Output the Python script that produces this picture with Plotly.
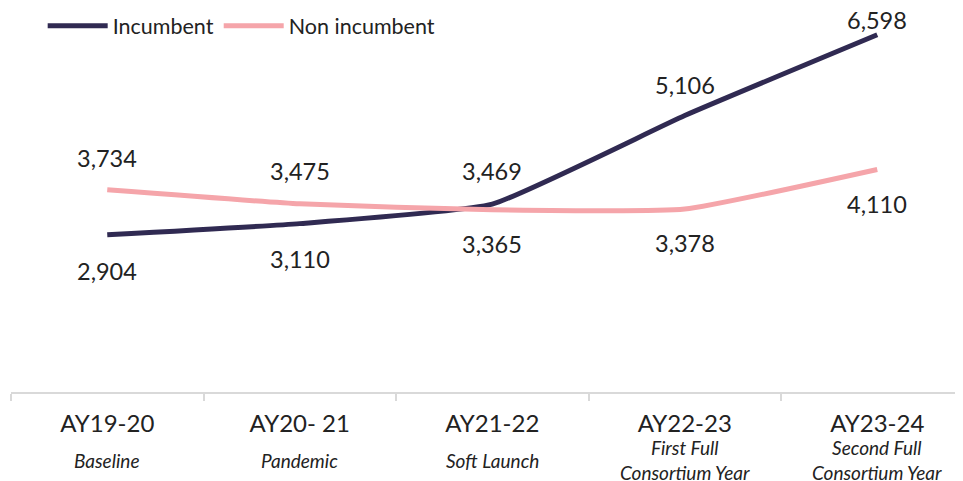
import plotly.graph_objects as go

years = ['AY19-20', 'AY20- 21', 'AY21-22', 'AY22-23', 'AY23-24']
phases = ['Baseline', 'Pandemic', 'Soft Launch', 'First Full<br>Consortium Year',
          'Second Full<br>Consortium Year']
incumbent = [2904, 3110, 3469, 5106, 6598]
non_incumbent = [3734, 3475, 3365, 3378, 4110]

# vertical offset of each value label (px), styling only
inc_shift = [-36, -35, 33, 31, 15]
non_shift = [32, 33, -34, -34, -35]

navy = '#302a52'
pink = '#f5a5aa'
font = 'Lato, Roboto, sans-serif'
txt = '#222222'

fig = go.Figure()

fig.add_trace(go.Scatter(
    x=years, y=incumbent, name='Incumbent', mode='lines',
    line=dict(color=navy, width=5, shape='spline', smoothing=0.4),
))
fig.add_trace(go.Scatter(
    x=years, y=non_incumbent, name='Non incumbent', mode='lines',
    line=dict(color=pink, width=5, shape='spline', smoothing=0.4),
))

# value labels
for vals, shifts in [(incumbent, inc_shift), (non_incumbent, non_shift)]:
    for yr, v, s in zip(years, vals, shifts):
        fig.add_annotation(
            x=yr, y=v, showarrow=False, yshift=s, text=f'{v:,}',
            font=dict(size=23.5, color=txt, family=font),
        )

# italic phase labels under each year
for yr, ph in zip(years, phases):
    fig.add_annotation(
        x=yr, y=0, xref='x', yref='y', yanchor='middle', showarrow=False,
        yshift=-68, text=f'<i>{ph}</i>',
        font=dict(size=19, color=txt, family=font), align='center',
    )

fig.update_xaxes(
    type='category', range=[-0.5, 4.487],
    showline=True, linecolor='#d9d9d9', linewidth=2,
    ticks='outside', tickson='boundaries', ticklen=7, tickcolor='#d9d9d9', tickwidth=2,
    tickfont=dict(size=24, color=txt, family=font), ticklabelstandoff=9,
    showgrid=False,
)
fig.update_yaxes(range=[0, 7000], visible=False, showgrid=False)

fig.update_layout(
    width=963, height=481,
    plot_bgcolor='white', paper_bgcolor='white',
    margin=dict(l=3, r=0, t=5, b=97, autoexpand=False),
    showlegend=True,
    legend=dict(orientation='h', x=0.033, y=0.966, xanchor='left', yanchor='middle',
                font=dict(size=21.5, color=txt, family=font),
                itemwidth=60, bgcolor='rgba(0,0,0,0)'),
    font=dict(family=font),
)

fig.write_html('out.html')
